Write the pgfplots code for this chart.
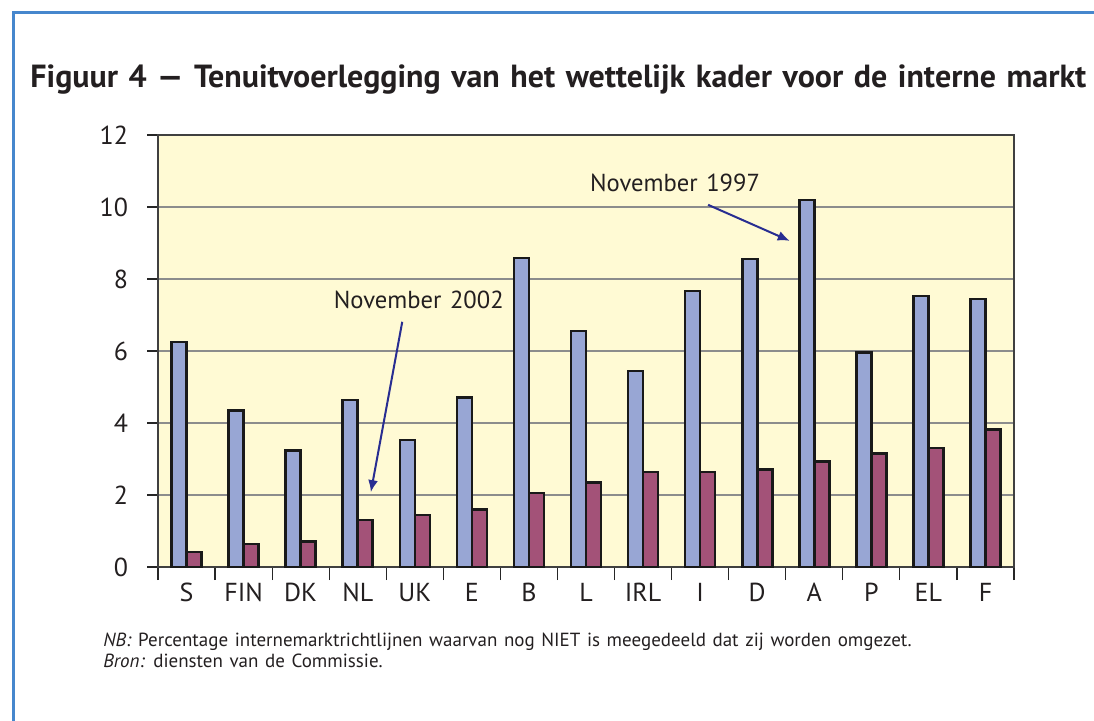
\documentclass[border=0pt]{standalone}
\usepackage{fontspec}
\setmainfont{PT Sans}
\newfontfamily\notefont[WordSpace=1.6]{PT Sans}
\newfontfamily\titlefont[WordSpace=1.3]{PT Sans}
\usepackage{pgfplots}
\pgfplotsset{compat=1.18}
\usetikzlibrary{arrows.meta}
\definecolor{bgyellow}{RGB}{255,250,212}
\definecolor{barblue}{RGB}{152,166,212}
\definecolor{barred}{RGB}{163,82,120}
\definecolor{arrowblue}{RGB}{40,45,145}
\definecolor{frameblue}{RGB}{70,135,205}
\definecolor{txt}{RGB}{35,31,32}

\begin{document}
\begin{tikzpicture}
\path[use as bounding box] (0,0) rectangle (547pt,-360.5pt);
\draw[frameblue, line width=1.5pt] (6.5pt,-360.5pt) -- (6.5pt,-6.5pt) -- (547pt,-6.5pt);
\node[anchor=base west, inner sep=0pt, text=txt, font=\titlefont\fontsize{16}{18}\selectfont\bfseries]
  at (15pt,-44pt) {Figuur 4 — Tenuitvoerlegging van het wettelijk kader voor de interne markt};
\node[anchor=base west, inner sep=0pt, text=txt, font=\notefont\fontsize{9.5}{11}\selectfont]
  at (51.5pt,-323.5pt) {\textit{NB:} Percentage internemarktrichtlijnen waarvan nog NIET is meegedeeld dat zij worden omgezet.};
\node[anchor=base west, inner sep=0pt, text=txt, font=\notefont\fontsize{9.5}{11}\selectfont]
  at (51.5pt,-334pt) {\textit{Bron:} diensten van de Commissie.};
\begin{axis}[
  at={(79pt,-283.5pt)}, anchor=south west,
  scale only axis, width=428pt, height=216pt,
  xmin=-0.5, xmax=14.5, ymin=0, ymax=12,
  ytick={0,2,...,12},
  xtick={0,...,14},
  xticklabels={S,FIN,DK,NL,UK,E,B,L,IRL,I,D,A,P,EL,F},
  minor xtick={-0.5,0.5,...,14.5},
  tick align=outside, tick pos=left,
  major tick length=5.5pt, minor tick length=6.5pt,
  major x tick style={draw=none},
  tick style={black!85, line width=0.6pt},
  axis line style={black!75, line width=0.7pt},
  axis background/.style={fill=bgyellow},
  ymajorgrids, grid style={black!45, line width=0.6pt},
  tick label style={text=txt, font=\fontsize{13}{15}\selectfont},
  yticklabel style={xshift=-6pt},
  xticklabel style={yshift=1pt},
  /pgf/number format/assume math mode=true,
  ybar=0pt, bar width=7.5pt,
  clip=false,
]
\addplot[fill=barblue, draw=black!90, line width=1.3pt, bar shift=-3.75pt] coordinates {
  (0,6.25) (1,4.35) (2,3.23) (3,4.64) (4,3.53) (5,4.71) (6,8.58) (7,6.56)
  (8,5.44) (9,7.67) (10,8.56) (11,10.19) (12,5.96) (13,7.53) (14,7.44)
};
\addplot[fill=barred, draw=black!90, line width=1.3pt, bar shift=3.75pt] coordinates {
  (0,0.42) (1,0.64) (2,0.71) (3,1.31) (4,1.44) (5,1.60) (6,2.05) (7,2.34)
  (8,2.64) (9,2.64) (10,2.71) (11,2.93) (12,3.15) (13,3.31) (14,3.82)
};
\node[text=txt, font=\notefont\fontsize{12.3}{14}\selectfont] at (axis cs:4.07,7.42) {November 2002};
\node[text=txt, font=\notefont\fontsize{12.3}{14}\selectfont] at (axis cs:8.56,10.67) {November 1997};
\draw[arrowblue, line width=1pt, -{Latex[length=6pt,width=5pt]}] (axis cs:3.78,6.81) -- (axis cs:3.23,2.08);
\draw[arrowblue, line width=1pt, -{Latex[length=6pt,width=5pt]}] (axis cs:9.14,10.06) -- (axis cs:10.57,9.06);
\end{axis}
\end{tikzpicture}
\end{document}
